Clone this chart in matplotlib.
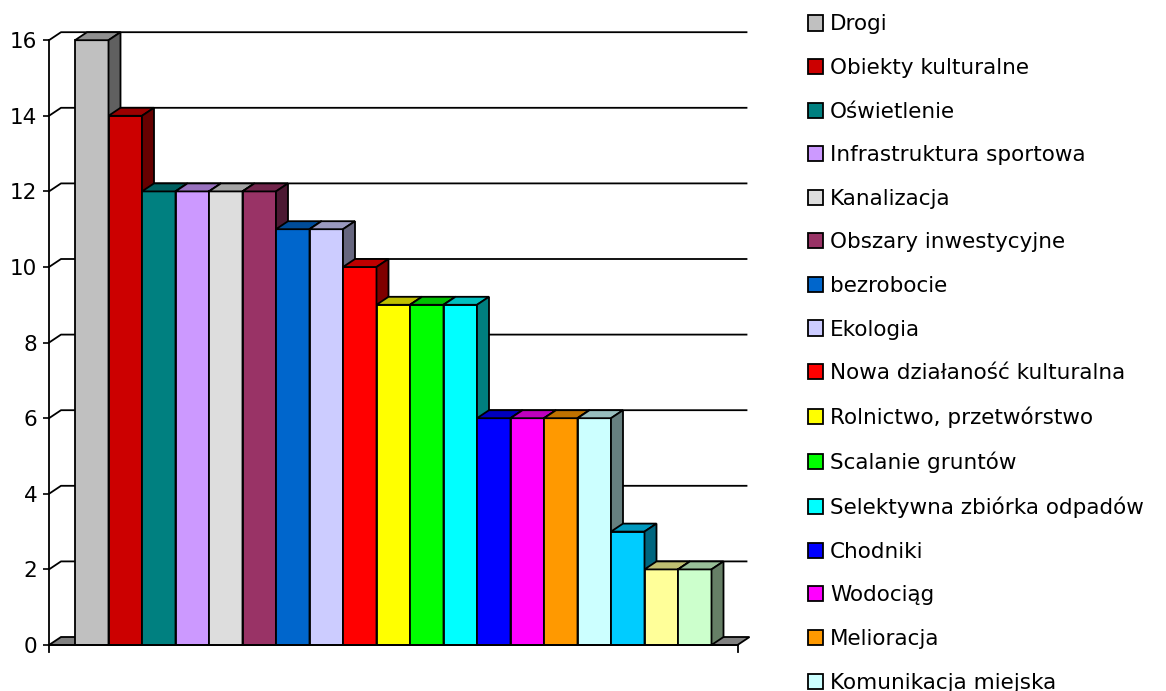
import matplotlib.pyplot as plt
from matplotlib.patches import Polygon, Patch

# data
categories = ["Drogi", "Obiekty kulturalne", "Oświetlenie", "Infrastruktura sportowa",
              "Kanalizacja", "Obszary inwestycyjne", "bezrobocie", "Ekologia",
              "Nowa działaność kulturalna", "Rolnictwo, przetwórstwo", "Scalanie gruntów",
              "Selektywna zbiórka odpadów", "Chodniki", "Wodociąg", "Melioracja",
              "Komunikacja miejska", "(poza kadrem 1)", "(poza kadrem 2)", "(poza kadrem 3)"]
values = [16, 14, 12, 12, 12, 12, 11, 11, 10, 9, 9, 9, 6, 6, 6, 6, 3, 2, 2]
colors = ["#C0C0C0", "#CC0000", "#008080", "#CC99FF", "#DDDDDD", "#993366", "#0066CC",
          "#CCCCFF", "#FF0000", "#FFFF00", "#00FF00", "#00FFFF", "#0000FF", "#FF00FF",
          "#FF9900", "#CCFFFF", "#00CCFF", "#FFFF99", "#CCFFCC"]
yticks = [0, 2, 4, 6, 8, 10, 12, 14, 16]
n_legend = 16  # rows visible in the picture


def shade(hexcol, f):
    r, g, b = (int(hexcol[i:i + 2], 16) for i in (1, 3, 5))
    return "#%02x%02x%02x" % (int(r * f), int(g * f), int(b * f))


W, H = 1166, 691
fig = plt.figure(figsize=(W / 100, H / 100), dpi=100)

# axes placed in pixels: front axis at x=49, value 0 at y=645
px_x, px_y = 33.5, 37.8  # pixels per data unit
gap = 26 / px_x
dx, dy = 12 / px_x, 8 / px_y
n = len(values)
x0 = -0.5 - gap
x1 = n - 0.5 + gap
ymax = max(yticks)
ax = fig.add_axes([49 / W, 1 - 645 / H, (x1 + dx - x0) * px_x / W, (ymax + dy) * px_y / H])
ax.set_xlim(x0, x1 + dx)
ax.set_ylim(0, ymax + dy)
for s in ax.spines.values():
    s.set_visible(False)
ax.set_xticks([])
ax.set_yticks(yticks)
ax.set_yticklabels([str(v) for v in yticks])
ax.tick_params(axis="y", length=4.5, width=1.2, pad=4, labelsize=15.5)
lw = 1.3

# back wall gridlines + diagonal connectors
for v in yticks[1:]:
    ax.plot([x0, x0 + dx, x1 + dx - 3 / px_x], [v, v + dy, v + dy], color="black", lw=lw,
            zorder=1, clip_on=False)

# floor
ax.add_patch(Polygon([(x0, 0), (x1, 0), (x1 + dx, dy), (x0 + dx, dy)], closed=True,
                     facecolor="#808080", edgecolor="black", lw=lw, zorder=1.5, clip_on=False))

# front axis lines
ax.plot([x0, x0], [-7 / px_y, ymax], color="black", lw=lw, zorder=50, clip_on=False)
ax.plot([x0, x1], [0, 0], color="black", lw=lw, zorder=50, clip_on=False)
ax.plot([x1, x1], [0, -7 / px_y], color="black", lw=lw, zorder=50, clip_on=False)

# bars with 3D top and side faces
xs = list(range(n))
bars = ax.bar(xs, values, width=1.0, color=colors, edgecolor="black", lw=lw)
for i, (p, v, c) in enumerate(zip(bars.patches, values, colors)):
    z = 3 + i
    p.set_zorder(z)
    p.set_clip_on(False)
    l, r = i - 0.5, i + 0.5
    ax.add_patch(Polygon([(l, v), (r, v), (r + dx, v + dy), (l + dx, v + dy)], closed=True,
                         facecolor=shade(c, 0.75), edgecolor="black", lw=lw, zorder=z,
                         clip_on=False))
    ax.add_patch(Polygon([(r, 0), (r + dx, dy), (r + dx, v + dy), (r, v)], closed=True,
                         facecolor=shade(c, 0.5), edgecolor="black", lw=lw, zorder=z,
                         clip_on=False))

# legend
handles = [Patch(facecolor=c, edgecolor="black", lw=1.3) for c in colors[:n_legend]]
fig.legend(handles, categories[:n_legend], loc="upper left",
           bbox_to_anchor=(808 / W, 1 - 14.5 / H), frameon=False, fontsize=15.5,
           handlelength=0.7, handleheight=0.7, handletextpad=0.32,
           labelspacing=1.095, borderpad=0, borderaxespad=0)

fig.savefig("out.png", dpi=100)
